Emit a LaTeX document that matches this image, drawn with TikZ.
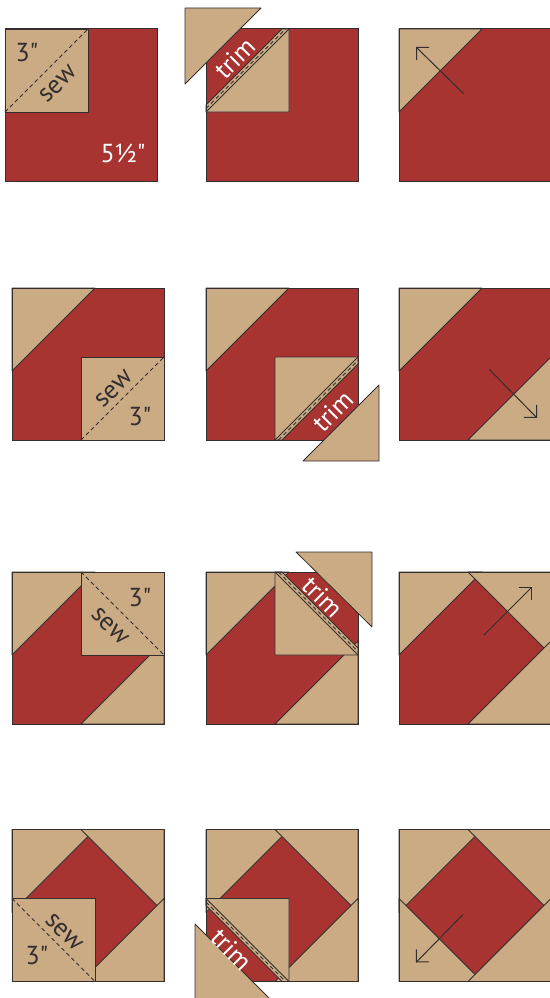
\documentclass[tikz,border=0pt]{standalone}
\usepackage{fontspec}
\newfontfamily\qfont{PT Sans}
\usetikzlibrary{arrows.meta}
\definecolor{qred}{RGB}{168,52,49}
\definecolor{qtan}{RGB}{202,171,131}
\definecolor{qline}{RGB}{52,46,46}
\tikzset{
  piece/.style={fill=qtan, draw=qline, line width=0.8pt, line join=round},
  outline/.style={draw=qline, line width=1pt},
  sewline/.style={draw=qline, line width=0.8pt, dash pattern=on 4pt off 3pt},
  cutline/.style={draw=qline, line width=0.8pt},
  darklbl/.style={text=qline, font=\qfont\fontsize{26}{29}\selectfont, inner sep=0pt},
  whitelbl/.style={text=white, font=\qfont\fontsize{26}{29}\selectfont, inner sep=0pt},
  turnarrow/.style={draw=qline, line width=1pt, -{Straight Barb[length=9pt,width=18pt]}}
}
\newcommand\qbase{\fill[qred] (0,0) rectangle (152,152);}
\newcommand\qTL{\path[piece] (0,0) -- (83,0) -- (0,83) -- cycle;}
\newcommand\qTR{\path[piece] (152,0) -- (69,0) -- (152,83) -- cycle;}
\newcommand\qBR{\path[piece] (152,152) -- (69,152) -- (152,69) -- cycle;}
\newcommand\qBL{\path[piece] (0,152) -- (83,152) -- (0,69) -- cycle;}
\newcommand\qframe{\draw[outline] (0,0) rectangle (152,152);}
\begin{document}
\begin{tikzpicture}[x=1pt,y=-1pt]
\useasboundingbox (0,0) rectangle (549,998);
% ---------------- row 1 ----------------
\begin{scope}[shift={(5,29)}]
  \qbase
  \path[piece] (0,0) rectangle (83,83);
  \draw[sewline] (0,83) -- (83,0);
  \qframe
  \node[darklbl] (a3) at (22,24) {3"};
  \node[darklbl, rotate=45] (asew) at (53,55) {sew};
  \node[whitelbl] (asize) at (118,124) {5½"};
\end{scope}
\begin{scope}[shift={(206,29)}]
  \qbase
  \path[piece] (0,76) -- (0,83) -- (83,83) -- (83,0) -- (76,0) -- cycle;
  \draw[cutline] (0,83) -- (83,0);
  \draw[sewline] (0,79.5) -- (79.5,0);
  \qframe
  \path[piece] (-21,-21) -- (55,-21) -- (-21,55) -- cycle;
  \node[whitelbl, rotate=45] (btrim) at (29,29) {trim};
\end{scope}
\begin{scope}[shift={(399,29)}]
  \qbase
  \qTL
  \qframe
  \coordinate (c1s) at (65,65);
  \coordinate (c1e) at (17,18);
  \draw[turnarrow] (c1s) -- (c1e);
\end{scope}
% ---------------- row 2 ----------------
\begin{scope}[shift={(12,288)}]
  \qbase
  \qTL
  \path[piece] (69,69) rectangle (152,152);
  \draw[sewline] (69,152) -- (152,69);
  \qframe
  \node[darklbl, rotate=45] (dsew) at (102,101) {sew};
  \node[darklbl] (d3) at (128,129) {3"};
\end{scope}
\begin{scope}[shift={(206,288)}]
  \qbase
  \qTL
  \path[piece] (69,69) -- (152,69) -- (152,76) -- (76,152) -- (69,152) -- cycle;
  \draw[cutline] (69,152) -- (152,69);
  \draw[sewline] (72.5,152) -- (152,72.5);
  \qframe
  \path[piece] (97,173) -- (173,173) -- (173,97) -- cycle;
  \node[whitelbl, rotate=45] (etrim) at (127,123) {trim};
\end{scope}
\begin{scope}[shift={(399,288)}]
  \qbase
  \qTL
  \qBR
  \qframe
  \coordinate (f1s) at (90,81);
  \coordinate (f1e) at (138,130);
  \draw[turnarrow] (f1s) -- (f1e);
\end{scope}
% ---------------- row 3 ----------------
\begin{scope}[shift={(12,572)}]
  \qbase
  \qTL
  \qBR
  \path[piece] (69,0) rectangle (152,83);
  \draw[sewline] (69,0) -- (152,83);
  \qframe
  \node[darklbl] (g3) at (128,26) {3"};
  \node[darklbl, rotate=-45] (gsew) at (98,54) {sew};
\end{scope}
\begin{scope}[shift={(206,572)}]
  \qbase
  \qTL
  \qBR
  \path[piece] (69,0) -- (76,0) -- (152,76) -- (152,83) -- (69,83) -- cycle;
  \draw[cutline] (69,0) -- (152,83);
  \draw[sewline] (72.5,0) -- (152,79.5);
  \qframe
  \path[piece] (90,-20) -- (166,-20) -- (166,55) -- cycle;
  \node[whitelbl, rotate=-45] (htrim) at (117,25) {trim};
\end{scope}
\begin{scope}[shift={(399,572)}]
  \qbase
  \qTL
  \qTR
  \qBR
  \qframe
  \coordinate (i1s) at (85,63);
  \coordinate (i1e) at (133,15);
  \draw[turnarrow] (i1s) -- (i1e);
\end{scope}
% ---------------- row 4 ----------------
\begin{scope}[shift={(12,829.5)}]
  \qbase
  \qTL
  \qTR
  \qBR
  \path[piece] (0,69) rectangle (83,152);
  \draw[sewline] (0,69) -- (83,152);
  \qframe
  \node[darklbl, rotate=-45] (jsew) at (52,103) {sew};
  \node[darklbl] (j3) at (25,126) {3"};
\end{scope}
\begin{scope}[shift={(206,829.5)}]
  \qbase
  \qTL
  \qTR
  \qBR
  \path[piece] (0,69) -- (83,69) -- (83,152) -- (76,152) -- (0,76) -- cycle;
  \draw[cutline] (0,69) -- (83,152);
  \draw[sewline] (0,72.5) -- (79.5,152);
  \qframe
  \path[piece] (-11,94.5) -- (-11,170.5) -- (65,170.5) -- cycle;
  \node[whitelbl, rotate=-45] (ktrim) at (26,120) {trim};
\end{scope}
\begin{scope}[shift={(399,829.5)}]
  \qbase
  \qTL
  \qTR
  \qBL
  \qBR
  \qframe
  \coordinate (l1s) at (64,85);
  \coordinate (l1e) at (17,133);
  \draw[turnarrow] (l1s) -- (l1e);
\end{scope}
\end{tikzpicture}
\end{document}
